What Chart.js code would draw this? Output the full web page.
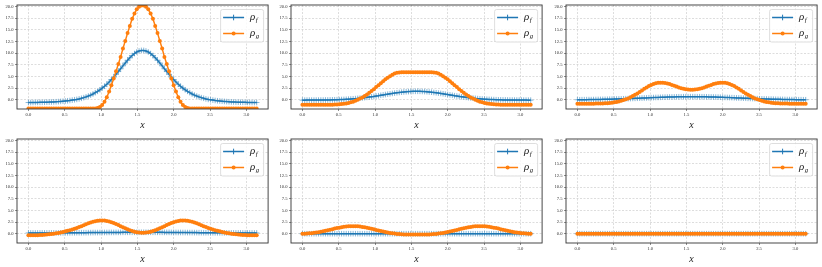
<!DOCTYPE html>
<html><head><meta charset="utf-8">
<script src="https://cdn.jsdelivr.net/npm/chart.js@4/dist/chart.umd.min.js"></script>
<style>
html,body{margin:0;padding:0;background:#fff;}
body{width:822px;height:267px;position:relative;overflow:hidden;}
canvas{position:absolute;}
</style></head><body>
<canvas id="c0" width="273" height="133" style="left:0px;top:0px"></canvas>
<canvas id="c1" width="273" height="133" style="left:274px;top:0px"></canvas>
<canvas id="c2" width="273" height="133" style="left:549px;top:0px"></canvas>
<canvas id="c3" width="273" height="133" style="left:0px;top:134px"></canvas>
<canvas id="c4" width="273" height="133" style="left:274px;top:134px"></canvas>
<canvas id="c5" width="273" height="133" style="left:549px;top:134px"></canvas>
<script>
// ---- data ----
const xValues = [
0.000,0.032,0.063,0.095,0.127,0.159,0.190,0.222,0.254,0.286,
0.317,0.349,0.381,0.413,0.444,0.476,0.508,0.539,0.571,0.603,
0.635,0.666,0.698,0.730,0.762,0.793,0.825,0.857,0.889,0.920,
0.952,0.984,1.015,1.047,1.079,1.111,1.142,1.174,1.206,1.238,
1.269,1.301,1.333,1.365,1.396,1.428,1.460,1.491,1.523,1.555,
1.587,1.618,1.650,1.682,1.714,1.745,1.777,1.809,1.841,1.872,
1.904,1.936,1.967,1.999,2.031,2.063,2.094,2.126,2.158,2.190,
2.221,2.253,2.285,2.317,2.348,2.380,2.412,2.443,2.475,2.507,
2.539,2.570,2.602,2.634,2.666,2.697,2.729,2.761,2.793,2.824,
2.856,2.888,2.919,2.951,2.983,3.015,3.046,3.078,3.110,3.142];
const xTicks = [0.0,0.5,1.0,1.5,2.0,2.5,3.0];
const yTicks = [0.0,2.5,5.0,7.5,10.0,12.5,15.0,17.5,20.0];
const seriesLabels = ['f','g'];

const rhoF1 = [
-0.61,-0.61,-0.60,-0.59,-0.58,-0.57,-0.56,-0.55,-0.53,-0.52,
-0.49,-0.47,-0.44,-0.41,-0.37,-0.33,-0.28,-0.23,-0.17,-0.09,
-0.01,0.06,0.17,0.30,0.44,0.60,0.78,0.99,1.23,1.51,
1.80,2.13,2.50,2.88,3.32,3.81,4.32,4.86,5.45,6.04,
6.64,7.27,7.89,8.48,9.01,9.50,9.92,10.25,10.47,10.59,
10.59,10.47,10.25,9.92,9.50,9.01,8.48,7.89,7.27,6.64,
6.04,5.45,4.86,4.32,3.81,3.32,2.88,2.50,2.13,1.80,
1.51,1.23,0.99,0.78,0.60,0.44,0.30,0.17,0.06,-0.01,
-0.09,-0.17,-0.23,-0.28,-0.33,-0.37,-0.41,-0.44,-0.47,-0.49,
-0.52,-0.53,-0.55,-0.56,-0.57,-0.58,-0.59,-0.60,-0.61,-0.61];
const rhoG1 = [
-1.90,-1.90,-1.90,-1.90,-1.90,-1.90,-1.90,-1.90,-1.90,-1.90,
-1.90,-1.90,-1.90,-1.90,-1.90,-1.90,-1.90,-1.90,-1.90,-1.90,
-1.90,-1.90,-1.90,-1.90,-1.90,-1.90,-1.90,-1.90,-1.90,-1.90,
-1.79,-1.57,-1.12,-0.46,0.54,1.76,3.10,4.54,6.09,7.65,
9.20,10.98,12.64,14.31,15.86,17.41,18.52,19.41,19.97,20.26,
20.26,19.97,19.41,18.52,17.41,15.86,14.31,12.64,10.98,9.20,
7.65,6.09,4.54,3.10,1.76,0.54,-0.46,-1.12,-1.57,-1.79,
-1.90,-1.90,-1.90,-1.90,-1.90,-1.90,-1.90,-1.90,-1.90,-1.90,
-1.90,-1.90,-1.90,-1.90,-1.90,-1.90,-1.90,-1.90,-1.90,-1.90,
-1.90,-1.90,-1.90,-1.90,-1.90,-1.90,-1.90,-1.90,-1.90,-1.90];
const rhoF2 = [
-0.10,-0.10,-0.09,-0.09,-0.09,-0.09,-0.08,-0.08,-0.07,-0.07,
-0.06,-0.05,-0.04,-0.03,-0.02,0.00,0.02,0.04,0.06,0.09,
0.12,0.15,0.19,0.23,0.28,0.33,0.38,0.44,0.50,0.57,
0.64,0.71,0.79,0.86,0.95,1.03,1.11,1.19,1.27,1.35,
1.42,1.49,1.55,1.61,1.66,1.71,1.74,1.77,1.79,1.80,
1.80,1.79,1.77,1.74,1.71,1.66,1.61,1.55,1.49,1.42,
1.35,1.27,1.19,1.11,1.03,0.95,0.86,0.79,0.71,0.64,
0.57,0.50,0.44,0.38,0.33,0.28,0.23,0.19,0.15,0.12,
0.09,0.06,0.04,0.02,0.00,-0.02,-0.03,-0.04,-0.05,-0.06,
-0.07,-0.07,-0.08,-0.08,-0.09,-0.09,-0.09,-0.09,-0.10,-0.10];
const rhoG2 = [
-1.10,-1.10,-1.10,-1.10,-1.10,-1.10,-1.10,-1.10,-1.10,-1.10,
-1.10,-1.09,-1.08,-1.07,-1.05,-1.02,-0.99,-0.94,-0.88,-0.80,
-0.70,-0.57,-0.42,-0.24,0.00,0.25,0.49,0.81,1.14,1.50,
1.86,2.27,2.73,3.13,3.55,3.98,4.37,4.74,5.06,5.35,
5.62,5.77,5.85,5.88,5.89,5.90,5.90,5.90,5.90,5.90,
5.90,5.90,5.90,5.90,5.90,5.89,5.88,5.85,5.77,5.62,
5.35,5.06,4.74,4.37,3.98,3.55,3.13,2.73,2.27,1.86,
1.50,1.14,0.81,0.49,0.25,0.00,-0.24,-0.42,-0.57,-0.70,
-0.80,-0.88,-0.94,-0.99,-1.02,-1.05,-1.07,-1.08,-1.09,-1.10,
-1.10,-1.10,-1.10,-1.10,-1.10,-1.10,-1.10,-1.10,-1.10,-1.10];
const rhoF3 = [
-0.01,-0.01,0.00,0.00,0.01,0.02,0.02,0.03,0.04,0.05,
0.06,0.07,0.08,0.09,0.11,0.12,0.13,0.15,0.16,0.18,
0.20,0.22,0.23,0.25,0.27,0.29,0.31,0.33,0.35,0.37,
0.39,0.42,0.44,0.46,0.48,0.49,0.51,0.53,0.55,0.56,
0.58,0.59,0.60,0.62,0.63,0.63,0.64,0.64,0.65,0.65,
0.65,0.65,0.64,0.64,0.63,0.63,0.62,0.60,0.59,0.58,
0.56,0.55,0.53,0.51,0.49,0.48,0.46,0.44,0.42,0.39,
0.37,0.35,0.33,0.31,0.29,0.27,0.25,0.23,0.22,0.20,
0.18,0.16,0.15,0.13,0.12,0.11,0.09,0.08,0.07,0.06,
0.05,0.04,0.03,0.02,0.02,0.01,0.00,0.00,-0.01,-0.01];
const rhoG3 = [
-0.86,-0.86,-0.86,-0.86,-0.86,-0.86,-0.85,-0.85,-0.84,-0.83,
-0.82,-0.80,-0.77,-0.74,-0.70,-0.64,-0.57,-0.48,-0.37,-0.24,
-0.09,0.08,0.28,0.51,0.77,1.05,1.35,1.67,2.00,2.33,
2.64,2.93,3.18,3.38,3.53,3.62,3.66,3.65,3.59,3.49,
3.35,3.18,3.00,2.81,2.63,2.47,2.33,2.23,2.17,2.15,
2.15,2.17,2.23,2.33,2.47,2.63,2.81,3.00,3.18,3.35,
3.49,3.59,3.65,3.66,3.62,3.53,3.38,3.18,2.93,2.64,
2.33,2.00,1.67,1.35,1.05,0.77,0.51,0.28,0.08,-0.09,
-0.24,-0.37,-0.48,-0.57,-0.64,-0.70,-0.74,-0.77,-0.80,-0.82,
-0.83,-0.84,-0.85,-0.85,-0.86,-0.86,-0.86,-0.86,-0.86,-0.86];
const rhoF4 = [
0.16,0.16,0.16,0.16,0.16,0.16,0.17,0.17,0.17,0.17,
0.17,0.18,0.18,0.18,0.18,0.19,0.19,0.19,0.19,0.20,
0.20,0.21,0.21,0.21,0.22,0.22,0.23,0.23,0.24,0.24,
0.24,0.25,0.25,0.26,0.26,0.27,0.27,0.27,0.28,0.28,
0.28,0.29,0.29,0.29,0.29,0.30,0.30,0.30,0.30,0.30,
0.30,0.30,0.30,0.30,0.30,0.29,0.29,0.29,0.29,0.28,
0.28,0.28,0.27,0.27,0.27,0.26,0.26,0.25,0.25,0.24,
0.24,0.24,0.23,0.23,0.22,0.22,0.21,0.21,0.21,0.20,
0.20,0.19,0.19,0.19,0.19,0.18,0.18,0.18,0.18,0.17,
0.17,0.17,0.17,0.17,0.16,0.16,0.16,0.16,0.16,0.16];
const rhoG4 = [
-0.36,-0.36,-0.35,-0.34,-0.32,-0.30,-0.27,-0.23,-0.18,-0.13,
-0.07,0.00,0.08,0.17,0.27,0.38,0.50,0.62,0.75,0.90,
1.07,1.25,1.44,1.62,1.82,2.02,2.22,2.40,2.56,2.69,
2.78,2.84,2.85,2.82,2.74,2.62,2.47,2.28,2.07,1.85,
1.62,1.38,1.15,0.93,0.73,0.56,0.42,0.32,0.25,0.22,
0.22,0.25,0.32,0.42,0.56,0.73,0.93,1.15,1.38,1.62,
1.85,2.07,2.28,2.47,2.62,2.74,2.82,2.85,2.84,2.78,
2.69,2.56,2.40,2.22,2.02,1.82,1.62,1.44,1.25,1.07,
0.90,0.75,0.62,0.50,0.38,0.27,0.17,0.08,0.00,-0.07,
-0.13,-0.18,-0.23,-0.27,-0.30,-0.32,-0.34,-0.35,-0.36,-0.36];
const rhoF5 = [
0,0,0,0,0,0,0,0,0,0, 0,0,0,0,0,0,0,0,0,0,
0,0,0,0,0,0,0,0,0,0, 0,0,0,0,0,0,0,0,0,0,
0,0,0,0,0,0,0,0,0,0, 0,0,0,0,0,0,0,0,0,0,
0,0,0,0,0,0,0,0,0,0, 0,0,0,0,0,0,0,0,0,0,
0,0,0,0,0,0,0,0,0,0, 0,0,0,0,0,0,0,0,0,0];
const rhoG5 = [
0.00,0.01,0.03,0.07,0.12,0.18,0.25,0.33,0.42,0.52,
0.63,0.74,0.86,0.98,1.09,1.20,1.30,1.39,1.47,1.53,
1.58,1.61,1.62,1.61,1.58,1.53,1.46,1.38,1.28,1.17,
1.06,0.94,0.82,0.70,0.58,0.47,0.36,0.26,0.17,0.09,
0.02,-0.04,-0.09,-0.12,-0.15,-0.17,-0.18,-0.19,-0.20,-0.20,
-0.20,-0.20,-0.19,-0.18,-0.17,-0.15,-0.12,-0.09,-0.04,0.02,
0.09,0.17,0.26,0.36,0.47,0.58,0.70,0.82,0.94,1.06,
1.17,1.28,1.38,1.46,1.53,1.58,1.61,1.62,1.61,1.58,
1.53,1.47,1.39,1.30,1.20,1.09,0.98,0.86,0.74,0.63,
0.52,0.42,0.33,0.25,0.18,0.12,0.07,0.03,0.01,0.00];
const rhoF6 = [
0,0,0,0,0,0,0,0,0,0, 0,0,0,0,0,0,0,0,0,0,
0,0,0,0,0,0,0,0,0,0, 0,0,0,0,0,0,0,0,0,0,
0,0,0,0,0,0,0,0,0,0, 0,0,0,0,0,0,0,0,0,0,
0,0,0,0,0,0,0,0,0,0, 0,0,0,0,0,0,0,0,0,0,
0,0,0,0,0,0,0,0,0,0, 0,0,0,0,0,0,0,0,0,0];
const rhoG6 = [
0,0,0,0,0,0,0,0,0,0, 0,0,0,0,0,0,0,0,0,0,
0,0,0,0,0,0,0,0,0,0, 0,0,0,0,0,0,0,0,0,0,
0,0,0,0,0,0,0,0,0,0, 0,0,0,0,0,0,0,0,0,0,
0,0,0,0,0,0,0,0,0,0, 0,0,0,0,0,0,0,0,0,0,
0,0,0,0,0,0,0,0,0,0, 0,0,0,0,0,0,0,0,0,0];

// ---- rendering ----
const BLUE = '#1f77b4', ORANGE = '#ff7f0e';
const BLUE_MARK = 'rgba(31,119,180,0.6)';
const X_MIN = -0.157, X_MAX = 3.299, Y_MIN = -2.0, Y_MAX = 20.35;
const SERIF = '"Liberation Serif", "DejaVu Serif", serif';

const framePlugin = {
  id: 'frame',
  afterDatasetsDraw(chart) {
    const {ctx, chartArea: a} = chart;
    ctx.save();
    ctx.strokeStyle = '#333';
    ctx.lineWidth = 0.9;
    ctx.strokeRect(a.left, a.top, a.right - a.left, a.bottom - a.top);
    ctx.restore();
  }
};

function drawMarker(ctx, style, x, y, color) {
  ctx.save();
  if (style === 'cross') {
    ctx.strokeStyle = color; ctx.lineWidth = 1;
    ctx.beginPath();
    ctx.moveTo(x - 2.8, y); ctx.lineTo(x + 2.8, y);
    ctx.moveTo(x, y - 2.8); ctx.lineTo(x, y + 2.8);
    ctx.stroke();
  } else {
    ctx.fillStyle = color;
    ctx.beginPath(); ctx.arc(x, y, 2, 0, Math.PI * 2); ctx.fill();
  }
  ctx.restore();
}

const legendPlugin = {
  id: 'rhoLegend',
  afterDraw(chart) {
    const {ctx, chartArea: a} = chart;
    const w = 43, h = 32.5;
    const x0 = a.right - 4.5 - w, y0 = a.top + 4.5;
    ctx.save();
    ctx.beginPath();
    ctx.roundRect(x0, y0, w, h, 2);
    ctx.fillStyle = 'rgba(255,255,255,0.85)';
    ctx.fill();
    ctx.strokeStyle = '#d6d6d6';
    ctx.lineWidth = 0.8;
    ctx.stroke();
    chart.data.datasets.forEach((ds, i) => {
      const y = y0 + 8 + i * 16;
      ctx.strokeStyle = ds.borderColor;
      ctx.lineWidth = 1.5;
      ctx.beginPath(); ctx.moveTo(x0 + 2.5, y); ctx.lineTo(x0 + 23.5, y); ctx.stroke();
      drawMarker(ctx, ds.pointStyle, x0 + 13, y, ds.borderColor);
      ctx.fillStyle = '#222';
      ctx.textBaseline = 'middle';
      ctx.textAlign = 'left';
      ctx.font = 'italic 11px ' + SERIF;
      const tx = x0 + 29.5;
      ctx.fillText('ρ', tx, y);
      const rw = ctx.measureText('ρ').width;
      ctx.font = 'italic 7px ' + SERIF;
      ctx.fillText(ds.sub, tx + rw + 0.3, y + 3);
    });
    ctx.restore();
  }
};

const panels = [
  [rhoF1, rhoG1], [rhoF2, rhoG2], [rhoF3, rhoG3],
  [rhoF4, rhoG4], [rhoF5, rhoG5], [rhoF6, rhoG6]
];

panels.forEach((p, k) => {
  const mk = arr => xValues.map((x, i) => ({x: x, y: arr[i]}));
  new Chart(document.getElementById('c' + k), {
    type: 'line',
    data: {
      datasets: [
        {label: 'ρ' + seriesLabels[0], sub: seriesLabels[0], data: mk(p[0]), borderColor: BLUE, backgroundColor: BLUE,
         borderWidth: 1.5, pointStyle: 'cross', pointRadius: 2.8, pointBorderWidth: 0.9, pointBorderColor: BLUE_MARK,
         tension: 0, fill: false, order: 2},
        {label: 'ρ' + seriesLabels[1], sub: seriesLabels[1], data: mk(p[1]), borderColor: ORANGE, backgroundColor: ORANGE,
         borderWidth: 1.5, pointStyle: 'circle', pointRadius: 2.0, pointBorderWidth: 0, pointBackgroundColor: ORANGE,
         tension: 0, fill: false, order: 1}
      ]
    },
    options: {
      responsive: false, animation: false, devicePixelRatio: 1,
      layout: {padding: {left: 0, right: 4.5, top: 5, bottom: 0}},
      plugins: {legend: {display: false}, tooltip: {enabled: false}},
      scales: {
        x: {
          type: 'linear', min: X_MIN, max: X_MAX,
          afterBuildTicks: s => { s.ticks = xTicks.map(v => ({value: v})); },
          afterFit: s => { s.height = 24; },
          ticks: {callback: v => Number(v).toFixed(1), font: {family: SERIF, size: 4.6}, color: '#333',
                  padding: 1.2, maxRotation: 0, autoSkip: false},
          grid: {color: '#cfcfcf', lineWidth: 0.7, tickLength: 2, tickColor: '#444', tickWidth: 0.6},
          border: {display: false, dash: [2, 1.5]},
          title: {display: true, text: 'x', font: {family: SERIF, style: 'italic', size: 10}, color: '#222',
                  padding: {top: 0, bottom: 2}}
        },
        y: {
          type: 'linear', min: Y_MIN, max: Y_MAX,
          afterBuildTicks: s => { s.ticks = yTicks.map(v => ({value: v})); },
          afterFit: s => { s.width = 17; },
          ticks: {callback: v => Number(v).toFixed(1), font: {family: SERIF, size: 4.6}, color: '#333',
                  padding: 1.5, autoSkip: false},
          grid: {color: '#cfcfcf', lineWidth: 0.7, tickLength: 2, tickColor: '#444', tickWidth: 0.6},
          border: {display: false, dash: [2, 1.5]}
        }
      }
    },
    plugins: [framePlugin, legendPlugin]
  });
});
</script>
</body></html>
